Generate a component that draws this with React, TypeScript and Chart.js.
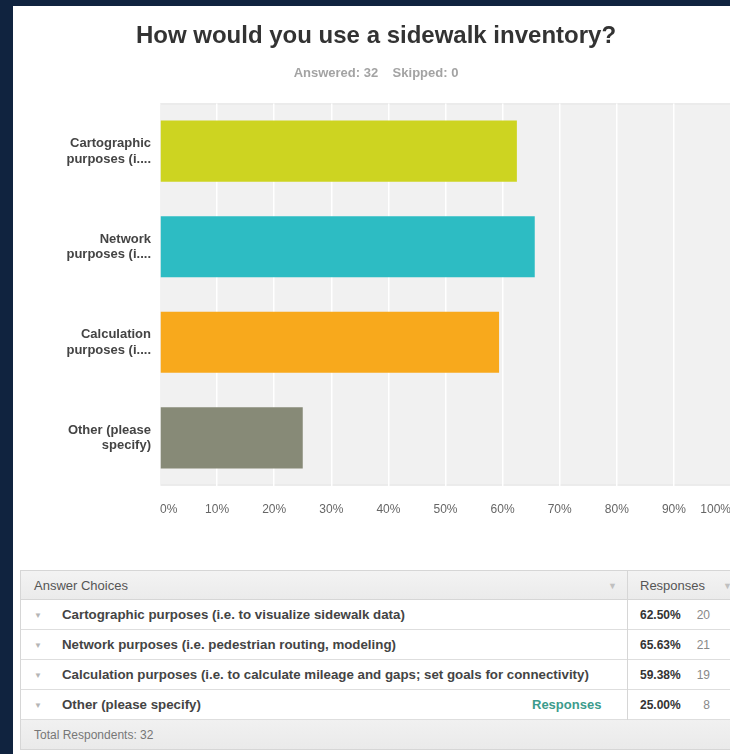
import React, { useEffect, useRef } from "react";
import { Chart, registerables } from "chart.js";

Chart.register(...registerables);

const categoryLabels: string[][] = [
  ["Cartographic", "purposes (i...."],
  ["Network", "purposes (i...."],
  ["Calculation", "purposes (i...."],
  ["Other (please", "specify)"],
];
const fullChoices: string[] = [
  "Cartographic purposes (i.e. to visualize sidewalk data)",
  "Network purposes (i.e. pedestrian routing, modeling)",
  "Calculation purposes (i.e. to calculate mileage and gaps; set goals for connectivity)",
  "Other (please specify)",
];
const percentValues: number[] = [62.5, 65.63, 59.38, 25.0];
const responseCounts: number[] = [20, 21, 19, 8];
const barColors: string[] = ["#cdd421", "#2dbcc3", "#f8a91c", "#878a77"];
const tickValues: number[] = [0, 10, 20, 30, 40, 50, 60, 70, 80, 90, 100];
const titleText = "How would you use a sidewalk inventory?";
const subtitleText = "Answered: 32    Skipped: 0";
const totalRespondents = 32;

const FONT = "'Liberation Sans', Arial, Helvetica, sans-serif";

const plotBg = {
  id: "plotBg",
  beforeDraw(chart: any) {
    const { ctx, chartArea } = chart;
    if (!chartArea) return;
    ctx.save();
    ctx.fillStyle = "#f1f1f1";
    ctx.fillRect(chartArea.left, chartArea.top, chartArea.right - chartArea.left, chartArea.bottom - chartArea.top);
    ctx.strokeStyle = "#e4e4e4";
    ctx.lineWidth = 1;
    ctx.strokeRect(chartArea.left + 0.5, chartArea.top + 0.5, chartArea.right - chartArea.left, chartArea.bottom - chartArea.top - 1);
    ctx.restore();
  },
};

const CW = 726;
const CH = 543;

function BarChart() {
  const ref = useRef<HTMLCanvasElement | null>(null);
  useEffect(() => {
    if (!ref.current) return;
    const chart = new Chart(ref.current, {
      type: "bar",
      data: {
        labels: categoryLabels,
        datasets: [
          {
            data: percentValues,
            backgroundColor: barColors,
            borderWidth: 0,
            barPercentage: 0.64,
            categoryPercentage: 1,
          },
        ],
      },
      plugins: [plotBg],
      options: {
        indexAxis: "y",
        animation: false,
        responsive: false,
        devicePixelRatio: 1,
        layout: { padding: { left: 0, right: 0, top: 0, bottom: 15 } },
        plugins: {
          legend: { display: false },
          tooltip: { enabled: false },
          title: {
            display: true,
            text: titleText,
            color: "#333333",
            font: { family: FONT, size: 24, weight: "bold" },
            padding: { top: 16, bottom: 15 },
          },
          subtitle: {
            display: true,
            text: subtitleText,
            color: "#a3a3a3",
            font: { family: FONT, size: 13, weight: "bold" },
            padding: { top: 0, bottom: 22 },
          },
        },
        scales: {
          x: {
            min: 0,
            max: 100,
            afterBuildTicks: (s: any) => {
              s.ticks = tickValues.map((v) => ({ value: v }));
            },
            afterFit: (s: any) => {
              s.paddingRight = 8;
              s.paddingLeft = 0;
            },
            ticks: {
              align: "inner",
              color: "#666666",
              font: { family: FONT, size: 12 },
              padding: 17,
              callback: (v: any) => v + "%",
            },
            grid: { color: "#ffffff", lineWidth: 1.5, drawTicks: false },
            border: { display: false },
          },
          y: {
            afterFit: (s: any) => {
              s.width = 147;
            },
            ticks: {
              color: "#444444",
              font: { family: FONT, size: 13, weight: "bold", lineHeight: 1.2 },
              padding: 9,
            },
            grid: { display: false, drawTicks: false },
            border: { display: false },
          },
        },
      },
    });
    return () => chart.destroy();
  }, []);
  return <canvas ref={ref} width={CW} height={CH} style={{ position: "absolute", left: 0, top: 0, width: CW, height: CH }} />;
}

const cellText: React.CSSProperties = { fontFamily: FONT, fontSize: 13, whiteSpace: "nowrap" };

export default function App() {
  return (
    <div style={{ position: "fixed", left: 0, top: 0, width: 730, height: 754, overflow: "hidden", background: "#10233f" }}>
      <div style={{ position: "absolute", left: 13, top: 6, width: 760, height: 760, background: "#ffffff" }}>
        <BarChart />
        <div style={{ position: "absolute", left: 7, top: 564, width: 760, height: 180 }}>
          <div style={{ position: "absolute", left: 0, top: 0, width: 760, height: 30, background: "linear-gradient(#f3f3f3,#ebebeb)", borderTop: "1px solid #d6d6d6", borderBottom: "1px solid #d6d6d6", borderLeft: "1px solid #d6d6d6", boxSizing: "border-box" }}>
            <span style={{ ...cellText, position: "absolute", left: 13, top: 7, color: "#555" }}>Answer Choices</span>
            <span style={{ ...cellText, fontSize: 9, position: "absolute", left: 587, top: 10, color: "#c0c0c0" }}>▼</span>
            <span style={{ ...cellText, position: "absolute", left: 619, top: 7, color: "#555" }}>Responses</span>
            <span style={{ ...cellText, fontSize: 9, position: "absolute", left: 702, top: 10, color: "#c0c0c0" }}>▼</span>
            <div style={{ position: "absolute", left: 606, top: 0, width: 1, height: 30, background: "#d6d6d6" }} />
          </div>
          {fullChoices.map((c, i) => (
            <div key={i} style={{ position: "absolute", left: 0, top: 30 + i * 30, width: 760, height: 30, background: "#fff", borderBottom: "1px solid #dedede", borderLeft: "1px solid #d6d6d6", boxSizing: "border-box" }}>
              <span style={{ ...cellText, fontSize: 8, position: "absolute", left: 13, top: 11, color: "#b5b5b5" }}>▼</span>
              <span style={{ ...cellText, fontWeight: "bold", fontSize: 13.3, position: "absolute", left: 41, top: 7, color: "#444" }}>{c}</span>
              {i === fullChoices.length - 1 && (
                <span style={{ ...cellText, fontWeight: "bold", position: "absolute", left: 511, top: 7, color: "#3c9b8c" }}>Responses</span>
              )}
              <div style={{ position: "absolute", left: 606, top: 0, width: 1, height: 30, background: "#d6d6d6" }} />
              <span style={{ ...cellText, fontSize: 12, fontWeight: "bold", position: "absolute", left: 619, top: 8, color: "#333" }}>{percentValues[i].toFixed(2)}%</span>
              <span style={{ ...cellText, fontSize: 12, position: "absolute", left: 689, top: 8, color: "#888", transform: "translateX(-100%)" }}>{responseCounts[i]}</span>
            </div>
          ))}
          <div style={{ position: "absolute", left: 0, top: 150, width: 760, height: 30, background: "linear-gradient(#f1f1f1,#eaeaea)", borderBottom: "1px solid #d6d6d6", borderLeft: "1px solid #d6d6d6", boxSizing: "border-box" }}>
            <span style={{ ...cellText, fontSize: 12, position: "absolute", left: 13, top: 8, color: "#777" }}>Total Respondents: {totalRespondents}</span>
          </div>
        </div>
      </div>
    </div>
  );
}
